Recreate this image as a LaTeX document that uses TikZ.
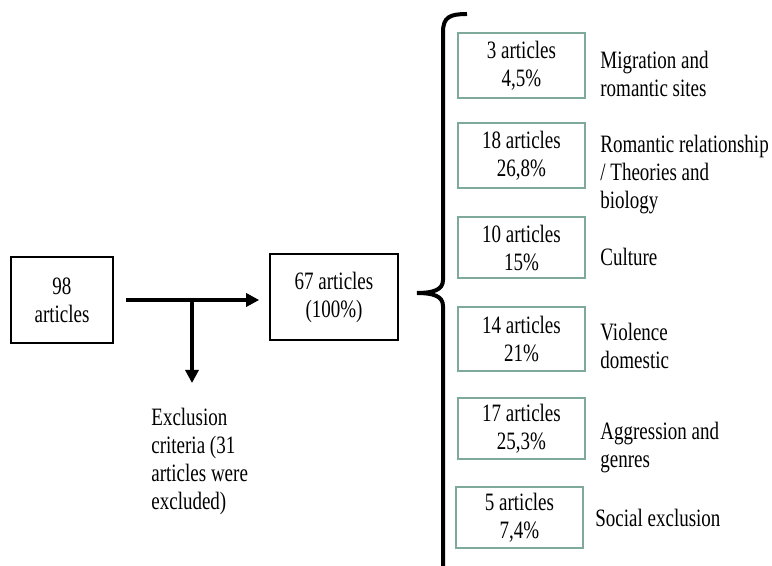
\documentclass[tikz,border=0pt]{standalone}
\usepackage{fontspec}
\setmainfont[FakeStretch=0.76]{Liberation Serif}
\usetikzlibrary{arrows.meta}
\definecolor{boxgreen}{RGB}{125,170,155}
\tikzset{
  txt/.style={font=\fontsize{12.5}{14}\selectfont, inner sep=0pt},
  blackbox/.style={txt, draw, line width=0.8pt, align=center, minimum width=#1, minimum height=43pt},
  greenbox/.style={txt, draw=boxgreen, line width=0.8pt, align=center, minimum width=63.5pt, minimum height=#1},
  topic/.style={txt, anchor=west, align=left},
  flow/.style={line width=2pt, -{Triangle[length=6.5pt,width=6.5pt]}},
}
\begin{document}
\begin{tikzpicture}[x=0.5pt,y=-0.5pt]
  \useasboundingbox (0,0) rectangle (772,566);
  \node[blackbox=51pt] (all) at (62,300) {98\\articles};
  \node[blackbox=64pt] (kept) at (334,297) {67 articles\\(100\%)};
  \coordinate (split) at (192,300);
  \coordinate (drop) at (192,383);
  \node[topic] (crit) at (151,461) {Exclusion\\criteria (31\\articles were\\excluded)};
  \draw[flow, shorten <=6pt, shorten >=5pt] (all.east) -- (all.east -| kept.west);
  \draw[flow] (split) -- (drop);
  % brace
  \draw[line width=2pt] (467,14) .. controls (450,14) and (443,17) .. (443,32) -- (443,280)
    .. controls (443,290) and (433,293) .. (417,293) .. controls (433,293) and (443,296) .. (443,306) -- (443,566);
  % topics
  \node[greenbox=32.5pt] (g1) at (521.5,65.5) {3 articles\\4,5\%};
  \node[greenbox=32.5pt] (g2) at (521.5,155.5) {18 articles\\26,8\%};
  \node[greenbox=30.5pt] (g3) at (521.5,247.5) {10 articles\\15\%};
  \node[greenbox=32pt] (g4) at (521.5,339) {14 articles\\21\%};
  \node[greenbox=30.5pt] (g5) at (521.5,428.5) {17 articles\\25,3\%};
  \node[greenbox=30.5pt] (g6) at (519.5,517.5) {5 articles\\7,4\%};
  \node[topic] (t1) at (600,74) {Migration and\\romantic sites};
  \node[topic] (t2) at (600,175) {Romantic relationship\\/ Theories and\\biology};
  \node[topic] (t3) at (600,257) {Culture};
  \node[topic] (t4) at (600,346) {Violence\\domestic};
  \node[topic] (t5) at (600,448) {Aggression and\\genres};
  \node[topic] (t6) at (595,518) {Social exclusion};
\end{tikzpicture}
\end{document}
